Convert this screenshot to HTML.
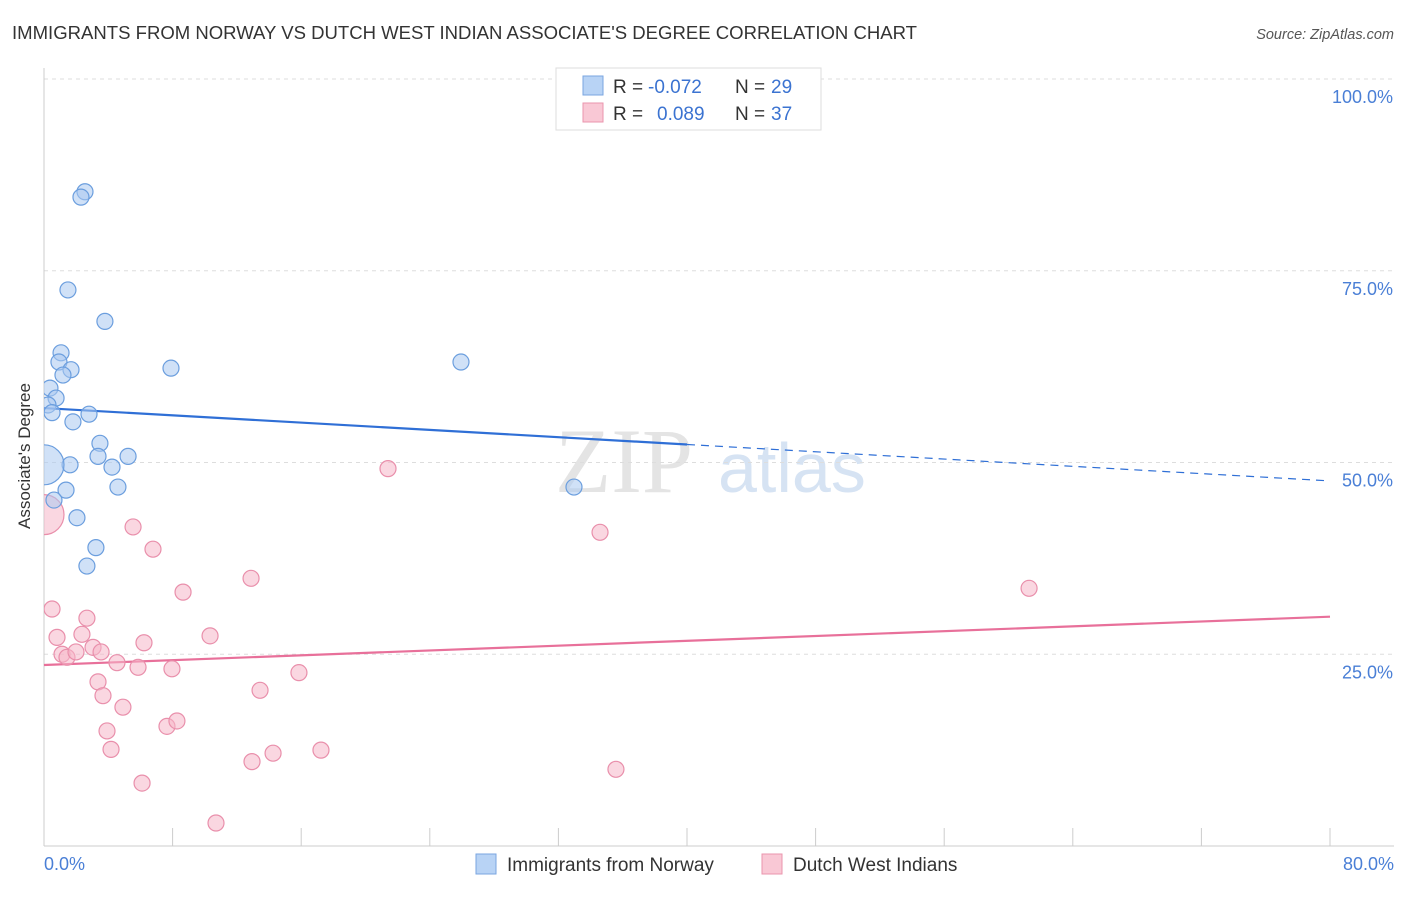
<!DOCTYPE html>
<html><head><meta charset="utf-8"><style>
body{margin:0;background:#fff;font-family:"Liberation Sans",sans-serif}
</style></head><body>
<svg id="chart" width="1406" height="892" xmlns="http://www.w3.org/2000/svg" font-family="Liberation Sans, sans-serif">
<defs><clipPath id="plotclip"><rect x="44" y="60" width="1360" height="786"/></clipPath></defs>
<text x="12" y="39" font-size="18.5" fill="#333" textLength="905" lengthAdjust="spacingAndGlyphs">IMMIGRANTS FROM NORWAY VS DUTCH WEST INDIAN ASSOCIATE'S DEGREE CORRELATION CHART</text>
<text x="1394" y="39" font-size="14.5" fill="#555" font-style="italic" text-anchor="end">Source: ZipAtlas.com</text>
<text x="555" y="492" font-size="92" fill="#e4e4e4" font-family="Liberation Serif, serif">ZIP</text>
<text x="718" y="492" font-size="70" fill="#d6e3f3">atlas</text>
<g id="grid"></g><g id="axes"></g><g id="trends"></g><g id="points" clip-path="url(#plotclip)"></g>
<text transform="translate(30,456) rotate(-90)" font-size="17" fill="#333" text-anchor="middle">Associate's Degree</text>
<g>
<rect x="556" y="68" width="265" height="62" fill="#fff" stroke="#ddd"/>
<rect x="583" y="76" width="20" height="19" fill="#b8d3f5" stroke="#7aa6e0"/>
<text x="613" y="93" font-size="19" fill="#333">R =</text>
<text x="648" y="93" font-size="19" fill="#3b73d1">-0.072</text>
<text x="735" y="93" font-size="19" fill="#333">N =</text>
<text x="771" y="93" font-size="19" fill="#3b73d1">29</text>
<rect x="583" y="103" width="20" height="19" fill="#f9c8d5" stroke="#ea95ad"/>
<text x="613" y="120" font-size="19" fill="#333">R =</text>
<text x="657" y="120" font-size="19" fill="#3b73d1">0.089</text>
<text x="735" y="120" font-size="19" fill="#333">N =</text>
<text x="771" y="120" font-size="19" fill="#3b73d1">37</text>
</g>
<g>
<rect x="476" y="854" width="20" height="20" fill="#b8d3f5" stroke="#7aa6e0"/>
<text x="507" y="871" font-size="19" fill="#333">Immigrants from Norway</text>
<rect x="762" y="854" width="20" height="20" fill="#f9c8d5" stroke="#ea95ad"/>
<text x="793" y="871" font-size="19" fill="#333">Dutch West Indians</text>
</g>
</svg>
<script>
const blueX=[2.55,2.30,1.49,3.79,1.06,0.93,1.68,1.18,7.90,25.94,0.37,0.75,0.25,0.50,2.80,1.80,3.48,3.36,5.23,4.23,1.62,0,4.60,1.37,0.62,32.97,2.05,3.23,2.67];
const blueY=[85.3,84.6,72.5,68.4,64.3,63.1,62.1,61.4,62.3,63.1,59.7,58.4,57.5,56.5,56.3,55.3,52.5,50.8,50.8,49.4,49.7,49.7,46.8,46.4,45.1,46.8,42.8,38.9,36.5];
const pinkX=[0.50,5.54,6.78,21.40,34.59,61.28,12.88,8.65,2.67,0.81,2.36,6.22,10.33,3.05,1.12,1.43,1.99,3.55,4.54,5.85,7.96,15.86,3.36,13.44,3.67,4.91,0,7.65,8.27,3.92,4.17,14.25,17.23,12.94,35.58,6.10,10.70];
const pinkY=[30.9,41.6,38.7,49.2,40.9,33.6,34.9,33.1,29.7,27.2,27.6,26.5,27.4,25.9,25.0,24.6,25.3,25.3,23.9,23.3,23.1,22.6,21.4,20.3,19.6,18.1,43.2,15.6,16.3,15.0,12.6,12.1,12.5,11.0,10.0,8.2,3.0];
const blueTrend=[57.1,47.6];
const pinkTrend=[23.6,29.9];
const yTicks=[25,50,75,100];
const xTicks=[0,8,16,24,32,40,48,56,64,72,80];
const NS="http://www.w3.org/2000/svg";
const sx=v=>44+v/80*1286, sy=v=>846-v/100*767;
function mk(tag,attrs,parent){const e=document.createElementNS(NS,tag);for(const k in attrs)e.setAttribute(k,attrs[k]);document.getElementById(parent).appendChild(e);return e;}
yTicks.forEach(t=>{
 const g=mk('line',{x1:44,x2:1394,y1:sy(t),y2:sy(t),stroke:'#ddd','stroke-dasharray':'4,4'},'grid');
 
 
 const l=mk('text',{x:1393,y:sy(t)+24,'font-size':18,fill:'#4a7fd6','text-anchor':'end'},'grid');
 l.textContent=t.toFixed(1)+'%';
 
 
});
const ax=mk('line',{x1:44,x2:44,y1:68,y2:846,stroke:'#ccc'},'axes');


const bx=mk('line',{x1:44,x2:1394,y1:846,y2:846,stroke:'#ccc'},'axes');


xTicks.forEach(t=>{
 const tk=mk('line',{x1:sx(t),x2:sx(t),y1:828,y2:846,stroke:'#ccc'},'axes');
 
 
});
[[0,'0.0%','start',44],[80,'80.0%','end',1394]].forEach(d=>{
 const l=mk('text',{x:d[3],y:870,'font-size':18,fill:'#4a7fd6','text-anchor':d[2]},'axes');
 l.textContent=d[1];
 
 
});
const bt1=mk('line',{x1:sx(0),y1:sy(blueTrend[0]),x2:sx(40),y2:sy(blueTrend[0]+(blueTrend[1]-blueTrend[0])/2),stroke:'#2f6fd6','stroke-width':2.2},'trends');


const bt2=mk('line',{x1:sx(40),y1:sy(blueTrend[0]+(blueTrend[1]-blueTrend[0])/2),x2:sx(80),y2:sy(blueTrend[1]),stroke:'#2f6fd6','stroke-width':1.2,'stroke-dasharray':'8,6'},'trends');


const pt=mk('line',{x1:sx(0),y1:sy(pinkTrend[0]),x2:sx(80),y2:sy(pinkTrend[1]),stroke:'#e8709a','stroke-width':2.2},'trends');


function pts(X,Y,fill,stroke,name){X.forEach((x,i)=>{
 const r=(x===0)?20:8;
 const c=mk('circle',{cx:sx(x),cy:sy(Y[i]),r:r,fill:fill,'fill-opacity':0.55,stroke:stroke,'stroke-width':1.2},'points');
 
 
});}
pts(pinkX,pinkY,'#f6b6c9','#e98fab','pink-point');
pts(blueX,blueY,'#a9c8f0','#6b9ede','blue-point');
</script>
</body></html>
